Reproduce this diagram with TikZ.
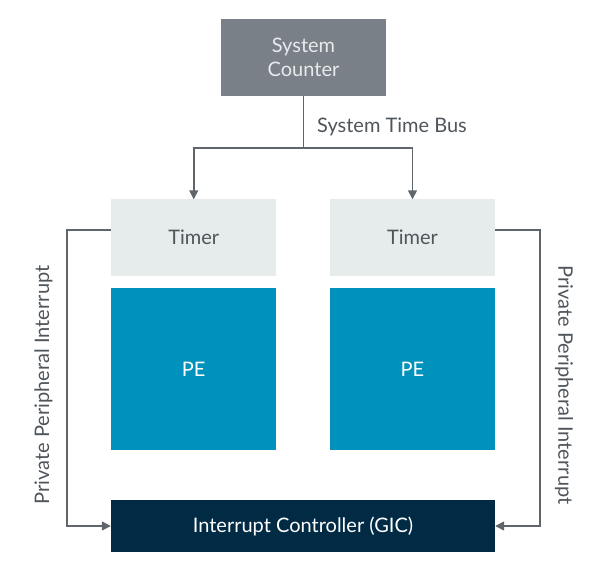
\documentclass[tikz,border=0pt]{standalone}
\usepackage{fontspec}
\setmainfont{Lato}
\usetikzlibrary{arrows.meta}
\definecolor{cntgray}{HTML}{7A8088}
\definecolor{cnttext}{HTML}{E8EAEC}
\definecolor{timerfill}{HTML}{E6EBEB}
\definecolor{pefill}{HTML}{0091BD}
\definecolor{gicfill}{HTML}{012A45}
\definecolor{wire}{HTML}{5F656B}
\definecolor{lbltext}{HTML}{4F555B}
\tikzset{ blk/.style={rectangle,inner sep=0pt,align=center,font=\fontsize{20}{24}\selectfont},
  wirelbl/.style={text=lbltext,inner sep=0pt,font=\fontsize{20}{24}\selectfont}}

\begin{document}
\begin{tikzpicture}[x=1pt,y=-1pt]
\useasboundingbox (0,0) rectangle (594,564);
  \node[blk,fill=cntgray,text=cnttext,minimum width=165pt,minimum height=77pt] (cnt) at (303.5,57.5) {System\\Counter};
  \foreach \pos/\name in {{(193.75,237.5)/tmA}, {(412.5,237.5)/tmB}}
        \node[blk,fill=timerfill,text=lbltext,minimum width=165pt,minimum height=76pt] (\name) at \pos {Timer};
  \foreach \pos/\name in {{(193.75,369)/peA}, {(412.5,369)/peB}}
        \node[blk,fill=pefill,text=white,minimum width=165pt,minimum height=162pt] (\name) at \pos {PE};
  \node[blk,fill=gicfill,text=white,minimum width=384pt,minimum height=52pt] (gic) at (303,526) {Interrupt Controller (GIC)};
  \coordinate (bus) at (303.5,148);
  \node[wirelbl,anchor=west] (buslbl) at (317,127) {System Time Bus};
  \node[wirelbl,rotate=90] (ppiA) at (43.5,385) {Private Peripheral Interrupt};
  \node[wirelbl,rotate=-90] (ppiB) at (564,385) {Private Peripheral Interrupt};
   \begin{scope}[draw=wire,line width=1.5pt,-{Triangle[length=9pt,width=9pt]}]
	\draw[-] (cnt) -- (bus);
	\draw (bus) -| (tmA);
	\draw (bus) -| (tmB);
	\draw ([yshift=7.5pt]tmA.west) -- ++(-44,0) |- (gic.west);
	\draw ([yshift=7.5pt]tmB.east) -- ++(45,0) |- (gic.east);
   \end{scope}
\end{tikzpicture}
\end{document}
